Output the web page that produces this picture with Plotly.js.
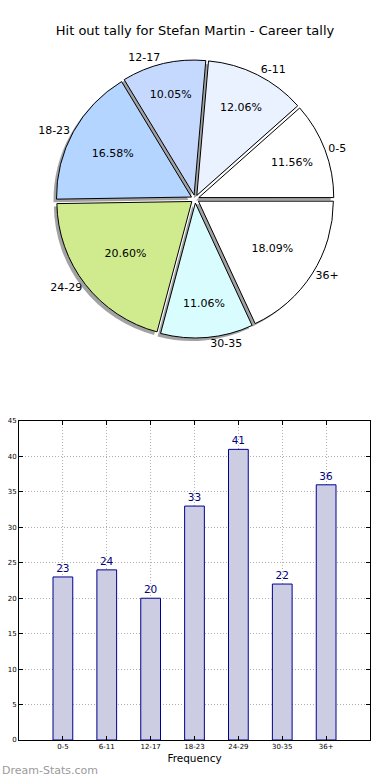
<!DOCTYPE html>
<html>
<head>
<meta charset="utf-8">
<script src="https://cdn.plot.ly/plotly-3.0.1.min.js"></script>
<style>html,body{margin:0;padding:0;background:#fff;}#chart{width:390px;height:780px;}</style>
</head>
<body>
<div id="chart"></div>
<script>
const categories = ["0-5", "6-11", "12-17", "18-23", "24-29", "30-35", "36+"];
const tally = [23, 24, 20, 33, 41, 22, 36];
const sliceColors = ["#ffffff", "#eaf2ff", "#c5d9ff", "#b3d5ff", "#d0eb8d", "#d9fdfe", "#ffffff"];
const explode = [0.03, 0.03, 0.03, 0.03, 0.03, 0.03, 0.03];
const titleText = "Hit out tally for Stefan Martin - Career tally";

const W = 390, H = 780;
const M = {l: 19, r: 20, t: 0, b: 40};
const PW = W - M.l - M.r, PH = H - M.t - M.b;
function fx(px) { return (px - M.l) / PW; }
function fy(py) { return (PH - (py - M.t)) / PH; }

const pieDomain = {x: [fx(56), fx(334)], y: [fy(338), fy(60)]};
const shadowDomain = {x: [fx(53), fx(331)], y: [fy(341), fy(63)]};

const common = {
  type: "pie", labels: categories, values: tally, sort: false,
  direction: "counterclockwise", rotation: 48.4, pull: explode,
  showlegend: false, hoverinfo: "skip"
};

const shadow = Object.assign({}, common, {
  domain: shadowDomain,
  marker: {colors: categories.map(() => "rgba(70,70,70,0.5)"), line: {width: 0}},
  textinfo: "none"
});
const main = Object.assign({}, common, {
  domain: pieDomain,
  marker: {colors: sliceColors, line: {color: "#000", width: 1}},
  textinfo: "percent", texttemplate: "%{percent:.2%}",
  textposition: "inside", insidetextorientation: "horizontal",
  insidetextfont: {family: "DejaVu Sans", size: 11, color: "#000"}
});
const labelsPie = Object.assign({}, common, {
  domain: pieDomain,
  marker: {colors: categories.map(() => "rgba(0,0,0,0)"), line: {width: 0}},
  textinfo: "label", textposition: "outside",
  outsidetextfont: {family: "DejaVu Sans", size: 11, color: "#000"}
});

const bars = {
  type: "bar", x: categories, y: tally, xaxis: "x", yaxis: "y",
  width: 0.45,
  marker: {color: "#cccce3", line: {color: "#000090", width: 1}},
  text: tally.map(String), textposition: "outside", cliponaxis: false,
  textfont: {family: "DejaVu Sans", size: 10.5, color: "#000080"},
  showlegend: false, hoverinfo: "skip"
};

const axisCommon = {
  showline: true, linecolor: "#000", linewidth: 1, mirror: "ticks",
  ticks: "inside", ticklen: 4, tickcolor: "#000",
  showgrid: true, gridcolor: "#b0b0b0", griddash: "1px,2px", gridwidth: 1,
  tickfont: {family: "DejaVu Sans", size: 7, color: "#000"},
  zeroline: false, fixedrange: true
};

const layout = {
  width: W, height: H, margin: M,
  paper_bgcolor: "#fff", plot_bgcolor: "#fff",
  font: {family: "DejaVu Sans", color: "#000"},
  title: {text: titleText, x: 0.5, xanchor: "center", y: 1 - 30 / H, yanchor: "middle",
          font: {family: "DejaVu Sans", size: 13, color: "#000"}},
  xaxis: Object.assign({}, axisCommon, {
    domain: [0, 1], range: [-1, 7], type: "category",
    title: {text: "Frequency", font: {family: "DejaVu Sans", size: 10.5, color: "#000"}, standoff: 4}
  }),
  yaxis: Object.assign({}, axisCommon, {
    domain: [0, fy(421)], range: [0, 45], dtick: 5
  }),
  bargap: 0,
  annotations: [{
    text: "Dream-Stats.com", xref: "paper", yref: "paper",
    x: fx(0), y: fy(770), xanchor: "left", yanchor: "middle", showarrow: false,
    font: {family: "DejaVu Sans", size: 11, color: "#9a9a9a"}
  }]
};

Plotly.newPlot("chart", [shadow, main, labelsPie, bars], layout, {displayModeBar: false, staticPlot: true});
</script>
</body>
</html>
